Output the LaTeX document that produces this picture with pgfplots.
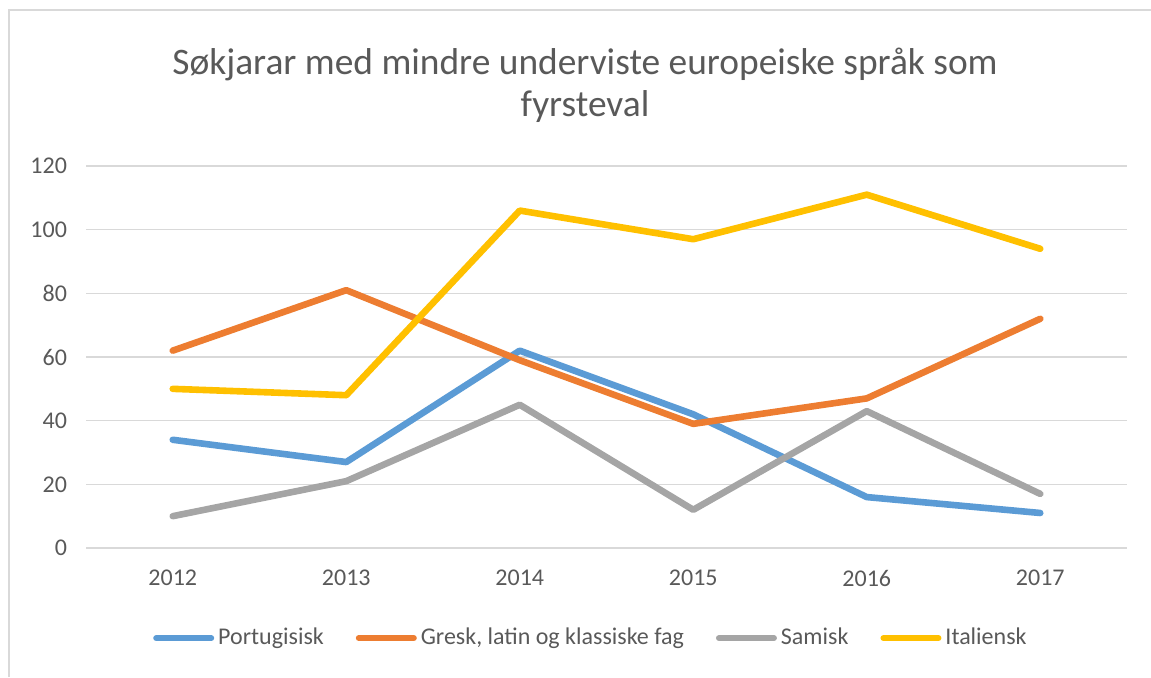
\documentclass[border=0pt]{standalone}
\usepackage{pgfplots}
\pgfplotsset{compat=1.18}
\usepackage{fontspec}
\setmainfont{Carlito}
\definecolor{cblue}{HTML}{5B9BD5}
\definecolor{corange}{HTML}{ED7D31}
\definecolor{cgray}{HTML}{A5A5A5}
\definecolor{cyellow}{HTML}{FFC000}
\definecolor{ctext}{HTML}{595959}
\definecolor{cgrid}{HTML}{D9D9D9}
\begin{document}
\begin{tikzpicture}
\useasboundingbox (0,0) rectangle (575.5pt,338.5pt);
\draw[cgrid, line width=0.75pt] (4.5pt,0pt) -- (4.5pt,333.5pt) -- (575.5pt,333.5pt);
\node[text=ctext, font=\fontsize{18.7}{21}\selectfont, align=center] at (292.5pt,296pt) {Søkjarar med mindre underviste europeiske språk som\\fyrsteval};
\begin{axis}[
  at={(43pt,64.5pt)}, anchor=south west,
  scale only axis, width=520.5pt, height=191pt,
  xmin=-0.5, xmax=5.5, ymin=0, ymax=120,
  xtick={0,1,2,3,4,5},
  xticklabels={2012,2013,2014,2015,2016,2017},
  ytick={0,20,40,60,80,100,120},
  axis line style={draw=none},
  tick style={draw=none},
  ymajorgrids, grid style={cgrid, line width=0.75pt},
  tick label style={text=ctext, font=\fontsize{12}{14}\selectfont},
  /pgf/number format/assume math mode=true,
  yticklabel style={xshift=-6pt},
  xticklabel style={yshift=-7.5pt},
  every axis plot/.append style={line width=3.3pt, line cap=round, line join=round, mark=none},
  legend columns=4,
  legend style={at={(0.486,-0.236)}, anchor=center, draw=none, fill=none,
    font=\fontsize{12}{14}\selectfont, text=ctext,
    nodes={inner xsep=2pt},
    /tikz/every even column/.append style={column sep=14pt}},
  legend image code/.code={\draw[#1, line width=3pt] (0pt,0pt) -- (27.5pt,0pt);},
]
\addplot[cblue] coordinates {(0,34) (1,27) (2,62) (3,42) (4,16) (5,11)};
\addlegendentry{Portugisisk}
\addplot[corange] coordinates {(0,62) (1,81) (2,59) (3,39) (4,47) (5,72)};
\addlegendentry{Gresk, latin og klassiske fag}
\addplot[cgray] coordinates {(0,10) (1,21) (2,45) (3,12) (4,43) (5,17)};
\addlegendentry{Samisk}
\addplot[cyellow] coordinates {(0,50) (1,48) (2,106) (3,97) (4,111) (5,94)};
\addlegendentry{Italiensk}
\end{axis}
\end{tikzpicture}
\end{document}
